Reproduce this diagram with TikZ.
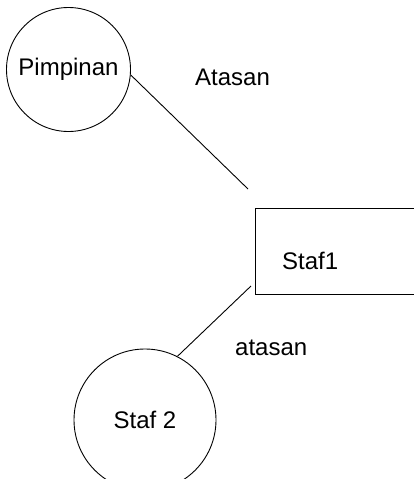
\documentclass[tikz,border=0pt]{standalone}
\usepackage{fontspec}
\setmainfont{Liberation Sans}
\begin{document}
\begin{tikzpicture}[x=1pt,y=-1pt,
  lbl/.style={font=\fontsize{24}{28}\selectfont, inner sep=0pt},
  ent/.style={draw, line width=0.9pt, circle, inner sep=0pt, font=\fontsize{24}{28}\selectfont},
  box/.style={draw, line width=1pt, rectangle, inner sep=0pt},
  conn/.style={line width=0.9pt}]
\useasboundingbox (0,0) rectangle (414,479);
\clip (0,0) rectangle (414,479);
\node[ent, minimum size=124] (p) at (68.5,69.5) {Pimpinan};
\node[ent, minimum size=142] (s2) at (145,420) {Staf 2};
\node[box, minimum width=170, minimum height=86] (s1) at (340,251) {};
\node[lbl, anchor=base west] (t1) at (282,269) {Staf1};
\node[lbl, anchor=base west] (a1) at (195,85) {Atasan};
\node[lbl, anchor=base west] (a2) at (235,355) {atasan};
\coordinate (e1) at (248,189);
\coordinate (e2) at (251,286);
\draw[conn] (p.-5) -- (e1);
\draw[conn] (e2) -- (s2.63);
\end{tikzpicture}
\end{document}
